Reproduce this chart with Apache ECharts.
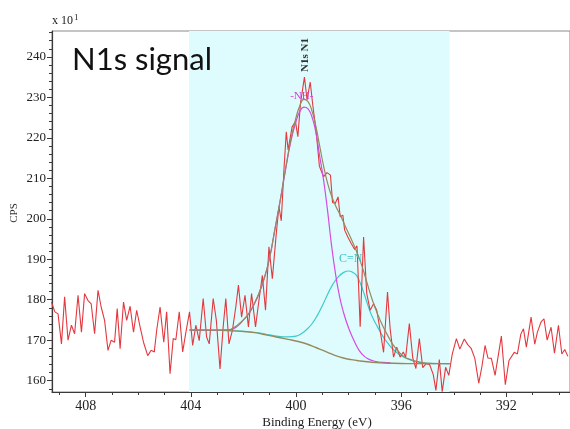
<!DOCTYPE html>
<html>
<head>
<meta charset="utf-8">
<script src="https://cdn.jsdelivr.net/npm/echarts@6/dist/echarts.min.js"></script>
<style>html,body{margin:0;padding:0;background:#fff}#c{width:570px;height:429px}</style>
</head>
<body>
<div id="c"></div>
<script>
// ---- data ----
const xMajorTicks = [392, 396, 400, 404, 408];
const xMinorTicks = [390, 391, 393, 394, 395, 397, 398, 399, 401, 402, 403, 405, 406, 407, 409];
const yMajorTicks = [160, 170, 180, 190, 200, 210, 220, 230, 240];
const yMinorTicks = [158, 162, 164, 166, 168, 172, 174, 176, 178, 182, 184, 186, 188, 192, 194, 196, 198,
  202, 204, 206, 208, 212, 214, 216, 218, 222, 224, 226, 228, 232, 234, 236, 238, 242, 244, 246];
const fitRegion = [404.07, 394.16];

// measured spectrum [binding energy eV, CPS x10]
const rawPoints = [
  [409.30,179.4],[409.17,177.0],[409.05,176.5],[408.92,169.1],[408.80,180.7],[408.67,170.0],[408.54,173.7],
  [408.42,171.6],[408.29,181.1],[408.16,172.0],[408.04,181.5],[407.91,179.8],[407.79,179.0],[407.66,171.6],
  [407.53,182.3],[407.41,178.2],[407.28,174.9],[407.15,167.5],[407.03,170.0],[406.90,169.5],[406.80,177.8],
  [406.69,167.9],[406.56,179.4],[406.44,174.9],[406.31,178.4],[406.18,172.0],[406.06,177.4],[405.93,173.3],
  [405.80,169.5],[405.64,166.2],[405.51,167.5],[405.39,167.1],[405.30,172.4],[405.17,178.2],[405.03,169.5],
  [404.92,177.0],[404.79,161.7],[404.67,170.4],[404.57,170.1],[404.44,177.0],[404.31,167.1],[404.20,171.5],
  [404.05,177.0],[403.93,168.7],[403.81,173.7],[403.68,169.9],[403.53,180.3],[403.40,170.8],[403.30,169.1],
  [403.15,180.3],[403.03,174.9],[402.89,162.9],[402.77,173.3],[402.67,180.3],[402.55,169.1],[402.42,172.4],
  [402.29,178.2],[402.19,183.6],[402.07,175.7],[401.94,181.1],[401.81,173.3],[401.69,181.5],[401.54,173.3],
  [401.41,179.8],[401.28,186.0],[401.16,177.4],[401.03,193.1],[400.90,185.2],[400.75,196.4],[400.65,203.0],
  [400.56,199.5],[400.46,212.0],[400.37,221.5],[400.30,217.0],[400.15,222.7],[400.02,224.0],[399.93,220.3],
  [399.83,228.5],[399.68,235.0],[399.58,229.4],[399.46,233.8],[399.36,228.0],[399.24,222.0],[399.11,213.0],
  [398.95,210.4],[398.82,211.4],[398.69,210.8],[398.61,204.0],[398.51,203.8],[398.40,205.4],[398.32,200.5],
  [398.22,200.9],[398.15,197.2],[398.03,195.5],[397.90,193.9],[397.77,192.4],[397.68,193.3],[397.56,173.3],
  [397.43,195.5],[397.31,181.5],[397.18,177.4],[397.05,179.0],[396.93,177.4],[396.80,172.4],[396.67,167.0],
  [396.52,181.9],[396.42,172.8],[396.29,165.8],[396.17,168.3],[396.04,165.8],[395.92,167.1],[395.83,165.8],
  [395.69,174.1],[395.56,165.6],[395.44,163.0],[395.31,170.4],[395.18,163.2],[395.05,164.2],[394.92,164.0],
  [394.78,161.5],[394.68,157.6],[394.55,165.2],[394.44,157.3],[394.31,163.3],[394.19,161.3],[394.06,166.5],
  [393.90,170.4],[393.77,167.8],[393.60,170.3],[393.47,168.9],[393.34,168.0],[393.20,165.5],[393.05,159.4],
  [392.93,163.5],[392.81,168.7],[392.70,165.6],[392.57,165.5],[392.43,161.3],[392.19,171.0],[392.04,159.0],
  [391.90,165.0],[391.70,167.0],[391.58,166.6],[391.45,171.5],[391.35,172.8],[391.24,168.3],[391.15,172.0],
  [391.06,175.7],[390.92,169.0],[390.82,172.0],[390.68,174.5],[390.57,175.3],[390.45,170.0],[390.30,173.2],
  [390.17,166.8],[390.02,173.7],[389.89,166.6],[389.78,167.7],[389.66,166.0]
];

// Shirley background
const bgPoints = [
  [404.05,172.5],[403.0,172.5],[402.4,172.3],[401.9,172.1],[401.5,171.8],[401.2,171.4],[400.9,171.0],
  [400.6,170.6],[400.3,170.2],[400.0,169.8],[399.7,169.3],[399.4,168.6],[399.1,167.8],[398.8,167.0],
  [398.5,166.2],[398.2,165.6],[397.9,165.2],[397.6,164.9],[397.2,164.6],[396.8,164.4],[396.3,164.3],
  [395.5,164.2],[394.16,164.2]
];

// -NH- component
const nhPoints = [
  [404.05,172.5],[403.0,172.5],[402.5,172.6],[402.2,173.6],[402.0,175.0],[401.8,176.6],[401.6,178.8],
  [401.4,181.6],[401.2,185.5],[401.0,190.5],[400.8,197.5],[400.6,204.5],[400.4,212.0],[400.2,219.0],
  [400.0,224.0],[399.85,226.6],[399.7,227.6],[399.55,227.2],[399.4,225.3],[399.25,221.5],[399.1,215.5],
  [398.95,209.5],[398.8,202.0],[398.65,193.5],[398.5,186.5],[398.35,181.0],[398.2,177.0],[398.0,173.0],
  [397.8,170.0],[397.6,167.5],[397.4,166.0],[397.2,165.2],[397.0,164.8],[396.7,164.5],[396.4,164.4]
];

// C=N component
const cnPoints = [
  [404.05,172.5],[402.5,172.4],[401.5,171.9],[401.0,171.3],[400.6,170.9],[400.3,170.8],[400.0,171.0],
  [399.8,171.6],[399.6,172.6],[399.4,174.0],[399.2,176.0],[399.0,178.5],[398.8,181.3],[398.6,183.8],
  [398.4,185.6],[398.2,186.7],[398.0,187.1],[397.85,186.8],[397.7,186.0],[397.55,184.0],[397.4,181.3],
  [397.25,178.3],[397.1,175.8],[396.9,173.3],[396.7,171.0],[396.5,169.2],[396.3,167.7],[396.1,166.6],
  [395.9,165.8],[395.6,165.0],[395.3,164.5],[395.0,164.3],[394.6,164.2],[394.16,164.2]
];

// fit envelope
const envPoints = [
  [402.5,172.6],[402.0,175.0],[401.6,178.8],[401.2,185.5],[401.0,190.5],[400.8,197.5],[400.6,204.6],
  [400.4,212.3],[400.2,219.5],[400.0,225.0],[399.85,228.0],[399.7,229.5],[399.55,229.0],[399.4,226.8],
  [399.25,223.0],[399.1,218.0],[398.95,213.0],[398.8,208.8],[398.65,205.7],[398.5,203.3],[398.3,200.7],
  [398.1,197.8],[397.9,195.0],[397.7,192.0],[397.5,188.5],[397.3,184.2],[397.1,180.0],[396.9,176.5],
  [396.7,173.5],[396.5,171.0],[396.3,168.8],[396.1,167.2],[395.9,166.0],[395.6,165.1],[395.3,164.6],
  [394.9,164.3],[394.16,164.2]
];

const annotations = [
  {text: '-NH-', at: [399.78, 230.3], color: '#d63bd8', size: 11},
  {text: 'C=N', at: [397.92, 190.2], color: '#38c4c8', size: 12}
];
const peakMarker = {text: 'N1s N1', at: 399.67};

// ---- chart ----
const serif = "'Liberation Serif', 'DejaVu Serif', serif";
const xMin = 389.58, xMax = 409.28, yMin = 157.2, yMax = 246.4;
const chart = echarts.init(document.getElementById('c'), null, {renderer: 'canvas'});

const axisColor = '#3a3a3a';
const option = {
  animation: false,
  backgroundColor: '#fff',
  grid: {left: 52, right: -2, top: 31, bottom: 37, show: true, borderColor: '#8a8a8a', borderWidth: 1, backgroundColor: 'transparent'},
  xAxis: [
    {type: 'value', inverse: true, min: xMin, max: xMax, position: 'bottom',
     axisLine: {show: true, onZero: false, lineStyle: {color: axisColor, width: 1.2}},
     axisTick: {show: true, customValues: xMajorTicks, length: 5, lineStyle: {color: axisColor}},
     axisLabel: {show: true, customValues: xMajorTicks, fontFamily: serif, fontSize: 14, color: '#222', margin: 7},
     splitLine: {show: false}},
    {type: 'value', inverse: true, min: xMin, max: xMax, position: 'bottom',
     axisLine: {show: false, onZero: false},
     axisTick: {show: true, customValues: xMinorTicks, length: 3, lineStyle: {color: axisColor}},
     axisLabel: {show: false}, splitLine: {show: false}}
  ],
  yAxis: [
    {type: 'value', min: yMin, max: yMax, position: 'left',
     axisLine: {show: true, onZero: false, lineStyle: {color: axisColor, width: 1.2}},
     axisTick: {show: true, customValues: yMajorTicks, length: 5, lineStyle: {color: axisColor}},
     axisLabel: {show: true, customValues: yMajorTicks, fontFamily: serif, fontSize: 13, color: '#222', margin: 6, padding: [0, 0, 8, 0]},
     splitLine: {show: false}},
    {type: 'value', min: yMin, max: yMax, position: 'left',
     axisLine: {show: false, onZero: false},
     axisTick: {show: true, customValues: yMinorTicks, length: 3, lineStyle: {color: axisColor}},
     axisLabel: {show: false}, splitLine: {show: false}}
  ],
  series: [
    {type: 'line', name: 'region', z: 1, data: [[fitRegion[1], yMin]], showSymbol: false, lineStyle: {width: 0}, silent: true,
     markArea: {silent: true, itemStyle: {color: '#defcfd'}, data: [[{xAxis: fitRegion[0]}, {xAxis: fitRegion[1]}]]}},
    {type: 'line', name: 'C=N', z: 2, data: cnPoints, smooth: true, showSymbol: false, lineStyle: {color: '#3ccbcc', width: 1.2}},
    {type: 'line', name: 'raw', z: 3, data: rawPoints, showSymbol: false, lineStyle: {color: '#e4383f', width: 1.1}},
    {type: 'line', name: '-NH-', z: 4, data: nhPoints, smooth: true, showSymbol: false, lineStyle: {color: '#d24ce0', width: 1.2}},
    {type: 'line', name: 'background', z: 5, data: bgPoints, smooth: true, showSymbol: false, lineStyle: {color: '#958a5e', width: 1.4}},
    {type: 'line', name: 'envelope', z: 5, data: envPoints, smooth: true, showSymbol: false, lineStyle: {color: '#958a5e', width: 1.2}}
  ]
};
chart.setOption(option);

const graphics = [
  {type: 'text', left: 72, top: 44, z: 10, style: {text: 'N1s signal', font: "31px Lato, 'Open Sans', sans-serif", fill: '#111'}},
  {type: 'text', x: 52, y: 13, z: 10, style: {text: 'x 10{s|1}', font: '12px ' + serif, fill: '#222',
    rich: {s: {fontSize: 9, verticalAlign: 'top', padding: [0, 0, 6, 1], fontFamily: serif}}}},
  {type: 'text', x: 14, y: 213, rotation: Math.PI / 2, z: 10,
   style: {text: 'CPS', font: '11px ' + serif, fill: '#333', align: 'center', verticalAlign: 'middle'}},
  {type: 'text', x: 317, y: 423, z: 10,
   style: {text: 'Binding Energy (eV)', font: '13px ' + serif, fill: '#222', align: 'center', verticalAlign: 'middle'}}
];
const mp = chart.convertToPixel({xAxisIndex: 0, yAxisIndex: 0}, [peakMarker.at, yMax]);
graphics.push({type: 'text', x: mp[0], y: mp[1] + 41, rotation: Math.PI / 2, z: 10,
  style: {text: peakMarker.text, font: 'bold 11px ' + serif, fill: '#333', align: 'left', verticalAlign: 'middle'}});
annotations.forEach(a => {
  const p = chart.convertToPixel({xAxisIndex: 0, yAxisIndex: 0}, a.at);
  graphics.push({type: 'text', x: p[0], y: p[1], z: 10,
    style: {text: a.text, font: a.size + 'px ' + serif, fill: a.color, align: 'center', verticalAlign: 'middle'}});
});
chart.setOption({graphic: graphics});
</script>
</body>
</html>
